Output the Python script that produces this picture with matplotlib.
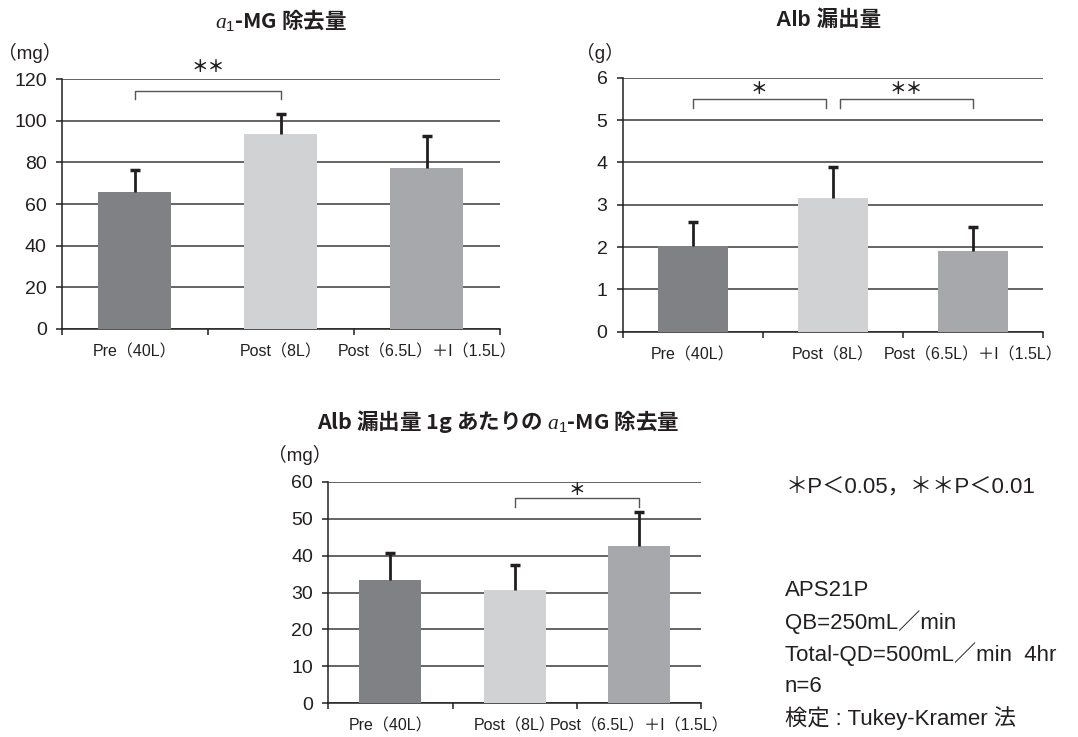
import numpy as np
import matplotlib
matplotlib.use("Agg")
import matplotlib.pyplot as plt

plt.rcParams['font.family'] = ['Liberation Sans', 'Noto Sans CJK JP', 'DejaVu Sans']
plt.rcParams['mathtext.fontset'] = 'custom'
plt.rcParams['mathtext.it'] = 'Liberation Serif:italic'
plt.rcParams['mathtext.rm'] = 'Liberation Sans'

TEXT = '#231f20'
CJK = ['Noto Sans CJK JP']

categories = ['Pre（40L）', 'Post（8L）', 'Post（6.5L）＋I（1.5L）']
bar_colors = ['#808185', '#d1d2d4', '#a7a8ab']

# α1-MG removal (mg)
mg_removal = [65.6, 93.4, 77.1]
mg_removal_sd = [10.6, 9.8, 15.4]

# Alb leakage (g)
alb_leak = [2.03, 3.15, 1.90]
alb_leak_sd = [0.57, 0.75, 0.58]

# α1-MG removal per 1 g Alb leakage (mg)
mg_per_alb = [33.3, 30.6, 42.6]
mg_per_alb_sd = [7.3, 6.9, 9.1]

# significance: (from, to, bracket level, label level, label)
sig_mg = [(0, 1, 114.4, 125.3, '＊＊')]
sig_alb = [(0, 0.95, 5.5, 5.73, '＊'), (1.05, 2, 5.5, 5.73, '＊＊')]
sig_ratio = [(1, 2, 55.6, 57.5, '＊')]

notes = ['APS21P', 'QB=250mL／min', 'Total-QD=500mL／min  4hr', 'n=6',
         '検定 : Tukey-Kramer 法']


def draw_panel(ax, values, errs, ymax, step, unit, unit_pos, title, title_pos,
               title_family, sigs, drop):
    x = np.arange(len(categories))
    values = np.array(values)
    errs = np.array(errs)
    ax.bar(x, values, width=0.5, color=bar_colors, zorder=3)
    # upper error bars only
    ax.vlines(x, values, values + errs, color=TEXT, lw=2, zorder=4)
    ax.plot(x, values + errs, ls='none', marker='_', ms=7, mew=2.5,
            color=TEXT, zorder=4)
    ax.set_xlim(-0.5, 2.5)
    ax.set_ylim(0, ymax)
    ax.set_yticks(np.arange(0, ymax + step / 2, step))
    ax.yaxis.grid(True, color='#3a3a3a', lw=1.1)
    ax.set_axisbelow(True)
    for s in ['top', 'right']:
        ax.spines[s].set_visible(False)
    for s in ['left', 'bottom']:
        ax.spines[s].set_color(TEXT)
        ax.spines[s].set_linewidth(1.1)
    ax.set_xticks(x, categories)
    ax.set_xticks([-0.5, 0.5, 1.5, 2.5], minor=True)
    ax.tick_params(axis='x', which='major', length=0, pad=11, labelsize=11.5,
                   labelcolor=TEXT)
    ax.tick_params(axis='x', which='minor', length=4, width=1.1, color=TEXT)
    ax.tick_params(axis='y', length=4, width=1.1, color=TEXT, pad=7,
                   labelsize=14, labelcolor=TEXT)
    ax.text(unit_pos[0], unit_pos[1], unit, transform=ax.transAxes,
            ha='center', va='center', fontsize=13.5, color=TEXT)
    ax.text(title_pos[0], title_pos[1], title, transform=ax.transAxes,
            ha='center', va='center', fontsize=15.5, fontweight='bold',
            color=TEXT, family=title_family)
    for a, b, lvl, tl, lab in sigs:
        ax.plot([a, a, b, b], [lvl - drop, lvl, lvl, lvl - drop],
                color='#555555', lw=1, clip_on=False, zorder=5)
        ax.text((a + b) / 2, tl, lab, ha='center', va='center',
                fontsize=12, fontweight='bold', color=TEXT, clip_on=False)


fig = plt.figure(figsize=(10.78, 7.37), dpi=100)

ax1 = fig.add_axes([0.0575, 0.5536, 0.4063, 0.3392])
draw_panel(ax1, mg_removal, mg_removal_sd, 120, 20, '（mg）', (-0.073, 1.104),
           r'$\mathit{a}_1$-MG 除去量', (0.5, 1.236), CJK, sig_mg, 4.1)

ax2 = fig.add_axes([0.5776, 0.5499, 0.3902, 0.3446])
draw_panel(ax2, alb_leak, alb_leak_sd, 6, 1, '（g）', (-0.054, 1.097),
           'Alb 漏出量', (0.49, 1.227), None, sig_alb, 0.22)

ax3 = fig.add_axes([0.3045, 0.0457, 0.3458, 0.3007])
draw_panel(ax3, mg_per_alb, mg_per_alb_sd, 60, 10, '（mg）', (-0.076, 1.12),
           r'Alb 漏出量 1g あたりの $\mathit{a}_1$-MG 除去量', (0.455, 1.271),
           CJK, sig_ratio, 2.5)

fig.text(786 / 1078, 1 - 487 / 737, '＊P＜0.05，＊＊P＜0.01', ha='left',
         va='center', fontsize=16, color=TEXT)
for i, line in enumerate(notes):
    fig.text(785 / 1078, 1 - (590 + i * 32) / 737, line, ha='left',
             va='center', fontsize=16, color=TEXT)

fig.savefig('out.png', dpi=100)
